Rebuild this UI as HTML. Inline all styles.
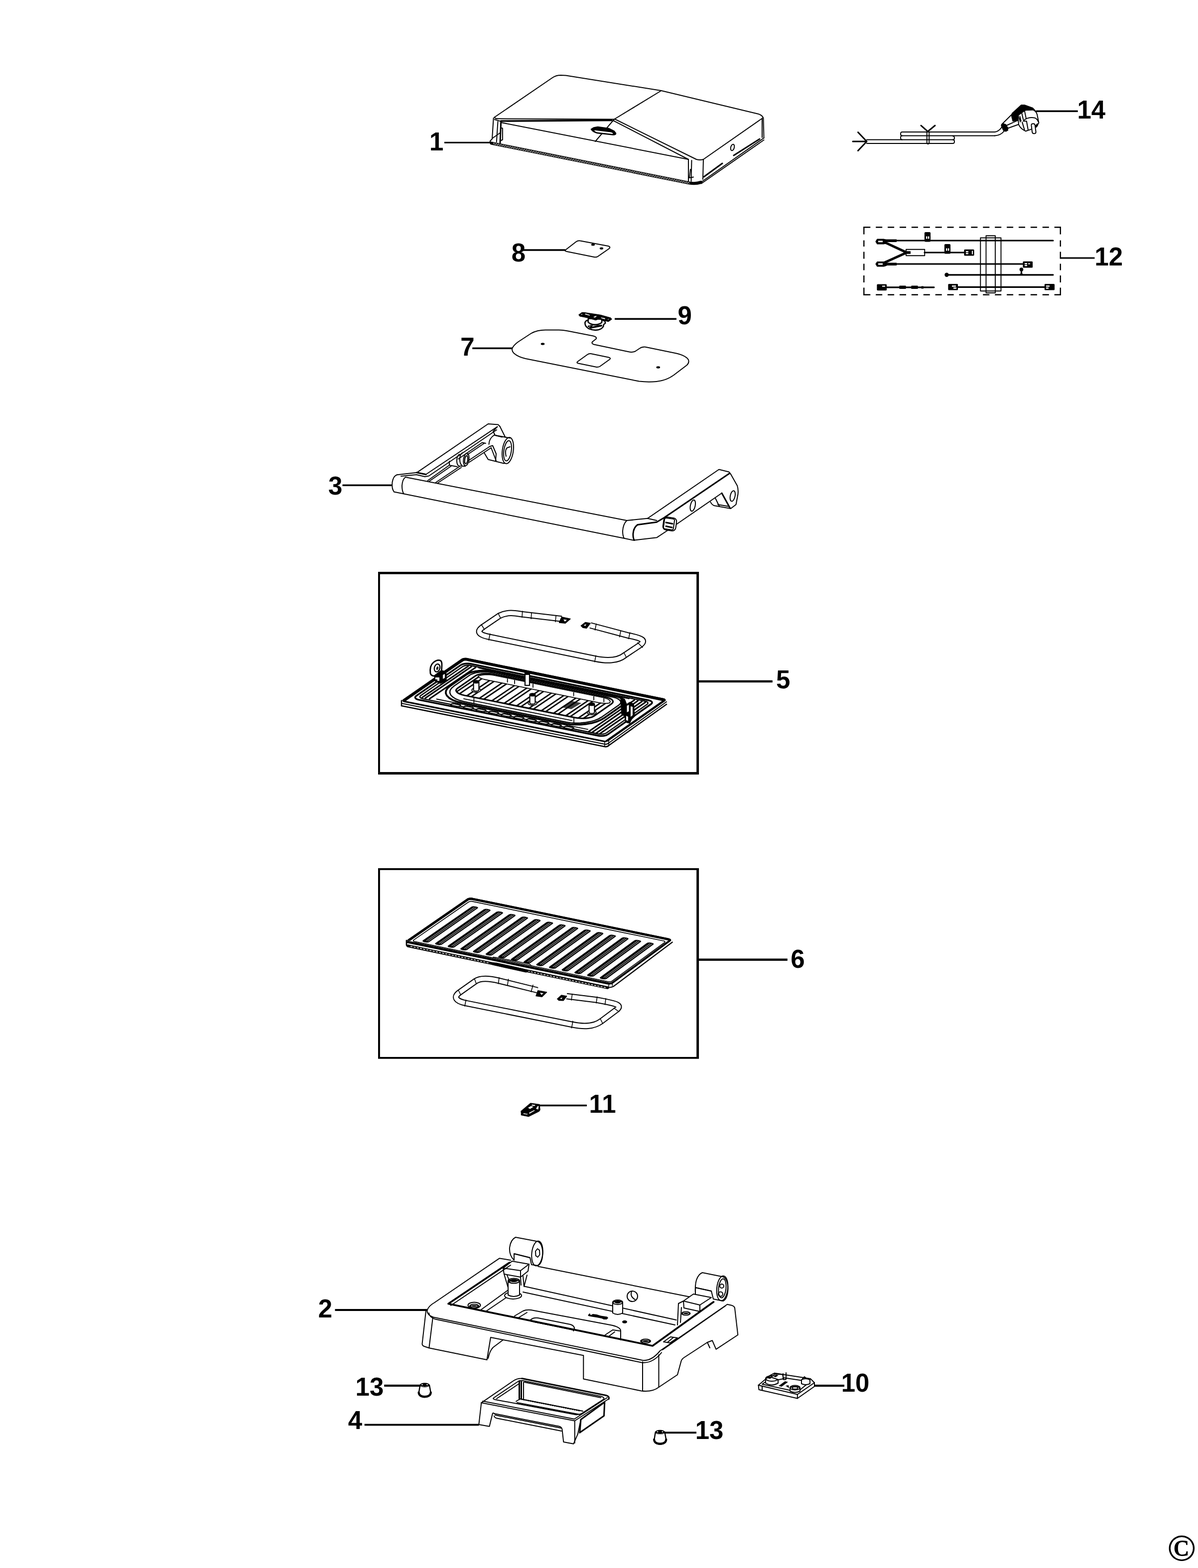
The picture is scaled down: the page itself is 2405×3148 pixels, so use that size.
<!DOCTYPE html>
<html lang="en">
<head>
<meta charset="utf-8">
<title>Exploded parts diagram</title>
<style>
html,body{margin:0;padding:0;background:#fff;}
body{width:2405px;height:3148px;overflow:hidden;}
svg{display:block;}
.l{fill:none;stroke:#000;stroke-width:2;stroke-linecap:round;stroke-linejoin:round;}
.t{fill:none;stroke:#000;stroke-width:1.6;stroke-linecap:round;stroke-linejoin:round;}
.h{fill:none;stroke:#000;stroke-width:3;stroke-linecap:round;stroke-linejoin:round;}
.w{fill:#fff;stroke:#000;stroke-width:2;stroke-linecap:round;stroke-linejoin:round;}
.k{fill:#000;stroke:#000;stroke-width:1.5;stroke-linejoin:round;}
.ld{fill:none;stroke:#000;stroke-width:3;stroke-linecap:butt;}
.box{fill:none;stroke:#000;stroke-width:3.4;}
.n{font-family:"Liberation Sans",Arial,Helvetica,sans-serif;font-weight:700;font-size:51px;fill:#000;}
.c{font-family:"Liberation Serif","Times New Roman",serif;font-weight:700;font-size:76.5px;fill:#000;}
</style>
</head>
<body>
<svg width="2405" height="3148" viewBox="0 0 2405 3148">
<rect x="0" y="0" width="2405" height="3148" fill="#fff"/>
<!-- 01_lid -->
<g class="l">
<!-- top face outline -->
<path d="M992.500 235.500 L1109 156 Q1116 151 1126 151 L1136 151.500 L1327.500 182 L1521 228.500 Q1531 231 1532.500 238 L1533.500 277"/>
<path d="M1530 238 L1530 276"/>
<!-- crease -->
<path d="M1327.500 182 L1233 239.500 L1195 284"/>
<!-- front top edges -->
<path d="M992.500 235.500 Q994 238.500 1000 238.300 L1233 239.500"/>
<!-- left corner -->
<path d="M990.700 237 L988 279 L984 283 Q983.500 286.500 986 288"/>
<path d="M999.500 244 L996.800 285"/>
<path d="M1006.400 257 L1008.900 257.500 L1008.900 280.500 L1006 282"/>
<path d="M988.600 277.500 L1003.600 267"/>
<path d="M992.900 240 L1005.700 243.600"/>
<!-- front face top edge -->
<path d="M1007.500 246.300 L1382 320"/>
<!-- chamfer from apex to front right corner -->
<path d="M1234 239 L1398 320 Q1405 322 1412 320"/>
<path d="M1231 242 L1382 320"/>
<!-- right top edge -->
<path d="M1531 237 L1412 320"/>
<!-- front right corner verticals -->
<path d="M1382 320 L1382 364"/>
<path d="M1388.500 322 L1387.500 364"/>
<path d="M1412 320 L1411 360"/>
<path d="M1386 340 L1384 357 L1392 355.500"/>
<!-- bottom right edges -->
<path d="M1533.500 277 L1410 364"/>
<path d="M1533.500 281 L1408 368.500"/>
</g>
<g class="h">
<path d="M1525 279 L1473 312"/>
<path d="M1450 328 L1413 355"/>
<path d="M1005.700 243 L1228 241.500" stroke-width="3.400"/>
<path d="M1005.700 244 L1004 287"/>
</g>
<!-- bottom band (rope-like) -->
<path d="M986.500 287.500 L1384 367.500 Q1397 369.500 1407 366" fill="none" stroke="#000" stroke-width="6.200" stroke-linecap="round"/>
<path d="M990 287.300 L1384 366.600" fill="none" stroke="#fff" stroke-width="1" stroke-dasharray="3.200 1.600"/>
<path d="M990 289.300 L1384 368.600" fill="none" stroke="#fff" stroke-width="1" stroke-dasharray="3.200 1.600" stroke-dashoffset="2.400"/>
<ellipse class="l" cx="1470.500" cy="296" rx="3.500" ry="6.500" transform="rotate(15 1470.500 296)"/>
<!-- handle recess -->
<path class="k" d="M1186.500 259.500 L1192 256 L1200 254.500 L1222 257.500 L1233 263 L1236.500 267.500 Q1237 271 1231 271 L1199 267.500 Q1190 265 1186.500 259.500 Z"/>
<path d="M1193 261.500 L1226 265.500 Q1232 267 1230 269 L1199 265.500 Q1193.500 264 1193 261.500Z" fill="#fff"/>
<!-- 02_cord -->
<g class="h">
<path d="M1740 284 H1712 M1740 284 L1722.500 265.500 M1740 284 L1722.500 302.500"/>
<path d="M1862.500 264 L1849 252 M1862.500 264 L1877 252"/>
</g>
<g class="l">
<path d="M1740 280.500 H1913 Q1916 280.500 1916 284 Q1916 288 1913 288 H1740"/>
<path d="M1913 280.500 Q1916 280.500 1916 277 Q1916 273.200 1913 273.200"/>
<path d="M1997 272.500 H1811 Q1808 272.500 1808 276.500 Q1808 280.500 1811 280.500"/>
<path d="M1811 272.500 Q1808 272.500 1808 269 Q1808 265 1811 265 H1997"/>
<path d="M1860.800 265 V288 Q1863 290 1865.200 288 V265"/>
<path d="M1997 265 Q2005 264 2010.500 256 L2012 252"/>
<path d="M1997 272.500 Q2009 271.500 2015 264 L2019 260"/>
<path d="M2010.8 250.0 L2031.7 229.2"/>
<path d="M2019.2 252.5 L2043.3 241.7"/>
<path d="M2023.3 257.5 L2044.2 250.0"/>
<path class="w" d="M2058.3 221.2 L2073.3 220.4 Q2080.4 223.3 2082.1 230.0 L2085.4 246.7 L2080.4 254.6 L2070.0 259.6 L2059.2 263.3 Q2048.3 258.3 2045.0 250.0 L2043.3 231.7 Z"/>
<path d="M2055.0 241.7 Q2065.0 234.2 2077.5 236.7 Q2082.5 239.2 2084.2 244.2"/>
<path d="M2056.7 222.1 L2060.0 237.9"/>
<path d="M2051.2 226.7 L2054.2 240.0"/>
<path d="M2054.2 243.3 L2060.8 243.3 L2063.8 260.0"/>
<path d="M2052.1 245.4 L2056.7 260.8"/>
<path d="M2044.2 231.7 L2048.3 245.0 L2047.5 233.3 L2050.0 243.3" stroke-width="1.500"/>
<path class="w" d="M2070.4 251.2 Q2070.4 248.3 2074.2 248.3 Q2077.5 248.3 2077.9 251.7 L2079.6 265.0 Q2079.6 268.3 2075.8 268.3 Q2072.5 268.3 2072.1 265.0 Z"/>
</g>
<path class="k" d="M2010.0 251.7 L2014.2 248.3 L2019.2 250.0 L2023.3 256.7 L2023.3 261.7 L2019.2 263.8 L2014.2 261.7Z"/>
<path class="k" d="M2031.7 227.5 L2050.0 210.7 L2056.7 210.7 L2073.3 216.7 L2079.2 222.9 L2073.3 220.4 L2059.2 221.0 L2051.7 225.4 L2044.2 231.7 L2042.1 242.1 L2033.3 243.3 L2030.8 233.3Z"/>
<path class="k" d="M2078.3 253.3 L2082.5 248.3 L2082.9 252.5 L2079.6 255.8Z"/>
<!-- 03_harness -->
<g fill="none" stroke="#000" stroke-width="2.4">
<path d="M1734.300 456.300 H2128.800" stroke-dasharray="13 10.9"/>
<path d="M1734.300 591.800 H2128.800" stroke-dasharray="13 10.9"/>
<path d="M1734.300 455.100 V593" stroke-dasharray="15.5 11.9 12.5 10.6 13.8 10 13.1 10.6 13.8 10.6 16"/>
<path d="M2128.800 455.100 V593" stroke-dasharray="15.5 11.9 12.5 10.6 13.8 10 13.1 10.6 13.8 10.6 16"/>
</g>
<g fill="none" stroke="#000" stroke-width="3.2" stroke-linecap="round">
<path d="M1775 483 H2114"/>
<path d="M1776 486.500 L1818 506 M1776 527 L1818 508" stroke-width="4.800"/>
<path d="M1774 483.300 H1800 M1774 530.300 H1800 M1818 507 H1828" stroke-width="5.400" stroke-linecap="butt"/>
<path d="M1856 507 H1938"/>
<path d="M1775 530 H2056"/>
<path d="M1902 551.800 H2114"/>
<path d="M1920 576.300 H2100"/>
<path d="M1778 576.800 H1875"/>
<path d="M2050.500 543 V551"/>
</g>
<g class="t" style="stroke-width:1.9">
<rect x="1968.300" y="477.500" width="41.200" height="106.800"/>
<rect x="1979.500" y="473.300" width="18.500" height="114.700"/>
<rect x="1819" y="500.800" width="37.300" height="12.500"/>
</g>
<g fill="#000" stroke="#000" stroke-width="1.2" stroke-linejoin="round">
<!-- ring terminals -->
<path d="M1758 485 L1761 480 H1774 L1780 482 V488 L1774 490 H1761 Z"/>
<path d="M1758 530 L1761 525.500 H1774 L1780 527.500 V533 L1774 535 H1761 Z"/>
<!-- flags -->
<rect x="1856.500" y="466.500" width="11" height="18.500" rx="1.5"/>
<rect x="1896.500" y="490.500" width="11" height="18.500" rx="1.5"/>
<!-- connectors -->
<rect x="1936" y="501.300" width="19" height="11.500" rx="1"/>
<rect x="2054" y="525.300" width="18.500" height="11.700" rx="1"/>
<rect x="1904" y="570.600" width="18.500" height="11.400" rx="1"/>
<rect x="2097.500" y="570.600" width="19" height="11.400" rx="1"/>
<rect x="1761" y="571.200" width="18.500" height="11.400" rx="1"/>
<rect x="1806" y="574" width="12" height="5.500"/>
<rect x="1830" y="574" width="12" height="5.500"/>
<rect x="1850" y="575" width="3.500" height="4"/>
<circle cx="1900.500" cy="551.800" r="3.600"/>
<circle cx="2050.500" cy="541" r="3.200"/>
<path d="M2047 551.800 L2050.500 548 L2054 551.800 Z"/>
</g>
<g fill="#fff" stroke="none">
<rect x="1763" y="483.300" width="9" height="3"/>
<rect x="1763" y="528.600" width="9" height="3"/>
<rect x="1859" y="474.500" width="2.500" height="5"/><rect x="1863" y="474.500" width="2.500" height="5"/>
<rect x="1899" y="498.500" width="2.500" height="5"/><rect x="1903" y="498.500" width="2.500" height="5"/>
<rect x="1939" y="504" width="5" height="2.500"/><rect x="1939" y="507.800" width="5" height="2.500"/><rect x="1951" y="503.500" width="2" height="7"/>
<rect x="2057" y="528" width="5" height="2.500"/><rect x="2057" y="531.800" width="5" height="2.500"/><rect x="2064" y="528.500" width="4" height="2"/>
<rect x="1911" y="573.200" width="8" height="2.500"/><rect x="1914" y="577.200" width="6" height="2.500"/>
<rect x="2100" y="573.200" width="7" height="2.500"/><rect x="2100" y="577.200" width="5" height="2.500"/>
<rect x="1771" y="573.500" width="6" height="2.200"/>
</g>
<!-- 04_plates -->
<g class="l">
<!-- part 8 -->
<path d="M1135 502 L1157 485 Q1160.500 482.500 1165 483.500 L1221 494 Q1226.500 495.500 1223 499 L1200 515 Q1197 517 1192.500 516 L1138 505 Q1133 504 1135 502 Z"/>
<!-- part 7 plate -->
<path d="M1028 700 Q1031 693 1040 686.500 L1066 669.500 Q1078 662.500 1095 662.500 L1122 662.500 Q1130 662.500 1140 664.500 L1191 674.500 Q1199 676.500 1196.500 680.500 L1189.500 686 Q1186.500 689.500 1192 691.500 L1262 706.300 Q1269 707.800 1275 705.500 L1284 699.500 Q1289 696 1296 696.700 L1358 709.500 Q1378 714.500 1382 722.500 Q1384 728 1379 733 L1352 753.500 Q1337 764 1318 766 Q1300 767.500 1283 765.500 L1055 720 Q1040 716.500 1032 709.500 Q1027.500 705 1028 700 Z"/>
<path d="M1159.500 726 L1179 712 Q1182.500 709.500 1187 710.300 L1222 717.500 Q1227 719 1224 721.500 L1204.500 735.500 Q1201 737.500 1196.500 736.800 L1161 729.500 Q1156.500 728.500 1159.500 726 Z"/>
</g>
<g fill="#000">
<ellipse cx="1190.500" cy="491.300" rx="3.600" ry="2.200"/>
<ellipse cx="1207.500" cy="498.800" rx="3.600" ry="2.200"/>
<ellipse cx="1089.500" cy="690.500" rx="3.800" ry="2.200"/>
<ellipse cx="1321.300" cy="737.500" rx="3.800" ry="2.200"/>
</g>
<!-- part 9 thermostat -->
<path d="M1180.6 642.7 Q1174.0 644.0 1174.4 649.3 Q1174.7 655.8 1181.9 659.8 Q1195.7 665.7 1206.1 660.4 Q1212.0 657.1 1211.7 651.9 L1215.3 648.6 L1214.0 644.0 L1208.1 642.7" fill="#fff" stroke="#000" stroke-width="2.600" stroke-linejoin="round"/>
<path d="M1179.3 655.2 Q1181.9 651.9 1188.5 652.6 L1198.9 652.6 L1208.8 651.9 L1208.8 655.2 L1185.8 659.8 Z" fill="#000"/>
<path d="M1188.5 655.8 L1190.4 653.5 L1198.9 653.2 L1191.1 655.2Z M1182.6 653.9 L1185.2 653.9 L1185.2 655.2 L1182.6 655.2Z" fill="#fff"/>
<path d="M1180.9 639.5 L1180.6 646.7 Q1185.8 651.9 1194.3 651.9 Q1204.2 651.2 1208.1 647.3 L1208.1 640.8 Z" fill="#fff" stroke="#000" stroke-width="2.600" stroke-linejoin="round"/>
<path d="M1161.9 631.9 L1168.2 627.4 L1172.7 627.4 L1205.5 632.3 L1225.8 638.2 L1228.1 640.8 L1221.2 645.7 L1205.5 641.4 L1201.5 640.8 L1195.7 642.7 L1180.6 638.2 L1164.2 634.9Z" fill="#000" stroke="#000" stroke-width="1.200" stroke-linejoin="round"/>
<path d="M1166.8 631.0 L1168.8 630.0 L1169.1 631.6 L1167.2 632.1Z M1174.0 631.0 L1175.4 629.6 L1183.9 632.3 L1183.9 633.7Z M1191.1 636.5 L1195.7 634.2 L1198.3 634.4 L1194.3 637.8Z M1206.1 637.2 L1214.6 638.8 L1214.6 640.9 L1207.4 639.1Z M1219.9 641.4 L1221.8 640.0 L1222.2 640.8 L1220.4 642.2Z" fill="#fff"/>
<!-- 05_handle -->
<g class="l">
<!-- bar -->
<path d="M814 958 L1258.300 1045"/>
<path d="M791 987.500 L1253 1080.800 L1273.300 1085"/>
<!-- left cap -->
<path d="M797 953.300 Q790 955 787.500 968 Q786 981 791 987.500"/>
<path d="M814 958 Q808 962 807 975 Q807 986 810.500 991.200"/>
<path d="M797 953.300 L836.700 948.800"/>
<path d="M805 956 L836 953 L853 957"/>
<!-- left arm -->
<path d="M836.700 948.800 L980 851 L1000 852.500 L1003.500 856"/>
<path d="M836.700 948.800 L855 952.500 L998.500 856.700"/>
<path d="M853 957 L861 955.500 L997 863"/>
<path d="M858.500 965 L902 934 M920 921.500 L968 888.500 L975 890"/>
<path d="M862 966 L906 935.500 M938 913 L972 890"/>
<path d="M875 968.500 L922 937 M940 925 L983 896.500"/>
<path d="M879 969.500 L926 938.500 M942 928 L986 899"/>
<path d="M902 926 V934 L918 937"/>
<!-- pin -->
<path d="M922 912 Q917 916 917 925 Q917 933 921 935.500 L934 936"/>
<path d="M928 909 Q923 913 923 922 Q923 931 927 934"/>
<ellipse cx="936" cy="922.500" rx="5.500" ry="12.500" transform="rotate(8 936 922.500)"/>
<ellipse cx="936" cy="923" rx="3" ry="8" transform="rotate(8 936 923)"/>
<!-- hinge end -->
<path d="M1003.500 856 L1014 877"/>
<path d="M998.500 856.700 L990 866 L994 874 L1008 877.500"/>
<path d="M992 873.500 Q982 880 981.500 892"/>
<path d="M992 873.500 L1024 879.500"/>
<path d="M983 896.500 L989 894.500 L996 911 L995 925"/>
<path d="M972 909 L980 922.500 L1012 930.500"/>
<path d="M986 899 L996 925"/>
<ellipse cx="1019.500" cy="904.500" rx="11" ry="26.500" transform="rotate(8 1019.500 904.500)"/>
<ellipse cx="1019" cy="905" rx="7.500" ry="20.500" transform="rotate(8 1019 905)"/>
<path d="M1016 916 Q1013 904 1018 899 L1024 897"/>
<!-- right cap -->
<path d="M1258.300 1045 Q1251 1052 1250 1066 Q1250 1076 1253 1080.800"/>
<path d="M1258.300 1045 L1300 1040.800 L1318.300 1045"/>
<!-- right arm -->
<path d="M1300 1040.800 L1443.300 942.500 L1463.500 947.500 L1467 952"/>
<path d="M1467 952 L1480 975 Q1482.500 982 1481.500 992 L1477.500 1013 L1467 1021 L1433 1015 Q1428 1012 1426.500 1008"/>
<path d="M1449 990 L1340 1065 L1318.300 1079.300 L1273.300 1084.500"/>
<path d="M1436 1000 L1444 1016.500"/>
<path d="M1441 1013 L1462 1016.500"/>
<ellipse cx="1390.800" cy="1015" rx="4.800" ry="11.500" transform="rotate(12 1390.800 1015)"/>
<ellipse cx="1470.800" cy="995.800" rx="4.800" ry="10.800" transform="rotate(12 1470.800 995.800)"/>
<!-- button -->
<rect class="w" x="1331.500" y="1039" width="26" height="26" rx="7" transform="rotate(8 1344.500 1052)"/>
<rect x="1333" y="1041" width="20" height="22" rx="3" transform="rotate(8 1344.500 1052)"/>
</g>
<g class="h">
<path d="M1280 1053.500 Q1272 1059 1271 1071 Q1270.500 1080 1273.300 1084.500"/>
<path d="M1280 1053.500 L1318.300 1048.300 L1333 1039.500 L1465 950"/>
<path d="M1449 990 L1465.500 1020"/>
<path d="M836.700 948.800 L855 952.500"/>
<path d="M1337 1049 L1350 1051.500 M1337 1056.500 L1349 1059"/>
</g>
<!-- 10_elem5 -->
<path d="M1127.500 1242.500 L1048.400 1233.300 C1038 1232 1022 1227 1002.500 1236.300 L969.400 1258.800 C958 1266.500 958 1274 982.500 1278.800 L1195 1322.500 C1217 1327 1239 1328 1255 1315 L1285 1295 C1297 1286 1290 1281.500 1263.300 1276.300 L1185 1255.500" fill="none" stroke="#000" stroke-width="12.6" stroke-linejoin="round"/>
<path d="M1127.500 1242.500 L1048.400 1233.300 C1038 1232 1022 1227 1002.500 1236.300 L969.400 1258.800 C958 1266.500 958 1274 982.500 1278.800 L1195 1322.500 C1217 1327 1239 1328 1255 1315 L1285 1295 C1297 1286 1290 1281.500 1263.300 1276.300 L1185 1255.500" fill="none" stroke="#fff" stroke-width="8.6" stroke-linejoin="round"/>
<path class="t" d="M1048.8 1227 L1048 1239.5 M1067 1230 L1066.2 1242.5 M1116.2 1235.5 L1115 1248.5 M1000 1231.2 L1005 1241.2 M966.2 1253.8 L972.5 1263.8 M983.8 1272.5 L981.2 1285 M1196.2 1316.2 L1193.8 1328.8 M1252.5 1310 L1257.5 1320 M1280 1290 L1290 1300 M1246.2 1266.2 L1243.8 1278.8 M1264.5 1270 L1262 1282.5 M1197 1252.5 L1194.5 1265"/>
<path class="k" d="M1127.500 1238.800 L1145 1242.500 L1135 1251.300 L1122.500 1250 Z"/><path d="M1131 1243.500 L1138 1244.500 L1134 1248 Z" fill="#fff"/><path class="k" d="M1166.300 1256.300 L1175 1249.500 L1185 1251.300 L1177.500 1261.300 L1170 1260 Z"/><path d="M1172 1255 L1177 1253 L1175 1257 Z" fill="#fff"/>
<!-- 11_plate5 -->
<g>
<path d="M806 1412 L1214 1494 Q1219 1495 1223 1491 L1338 1409" fill="none" stroke="#000" stroke-width="2.0" stroke-linejoin="round" stroke-linecap="round"/>
<path d="M806 1417 L1214 1499 Q1219 1500 1223 1496 L1338 1414" fill="none" stroke="#000" stroke-width="2.6" stroke-linejoin="round" stroke-linecap="round"/>
<path d="M806 1406.5 v10.5" fill="none" stroke="#000" stroke-width="2.4" stroke-linejoin="round" stroke-linecap="round"/>
<path d="M1214 1489.5 v9.5 M1222 1486.5 v9" fill="none" stroke="#000" stroke-width="1.6" stroke-linejoin="round" stroke-linecap="round"/>
<path d="M1334.4 1407 L1335.1 1406.3 L1335.4 1405.6 L1335.2 1404.9 L1334.5 1404.2 L1333.4 1403.7 L1332 1403.3 L937.2 1322.3 L935.5 1322 L933.6 1322 L931.7 1322.1 L930 1322.5 L928.4 1323 L927.3 1323.6 L809.8 1404.9 L809 1405.6 L808.7 1406.4 L808.9 1407.1 L809.7 1407.8 L810.8 1408.3 L812.3 1408.8 L1211 1488.3 L1212.6 1488.5 L1214.5 1488.6 L1216.3 1488.4 L1218 1488.1 L1219.5 1487.6 L1220.6 1486.9Z" fill="#fff" stroke="#000" stroke-width="2.4" stroke-linejoin="round"/>
<path d="M811.7 1405.8 L928.5 1325 L928.5 1325 L929.6 1324.4 L931 1324 L932.6 1323.7 L934.4 1323.7 L936.3 1323.7 L938 1324 L939.6 1324.3 L1332.3 1404.9" fill="none" stroke="#000" stroke-width="5.8" stroke-linejoin="round" stroke-linecap="round"/>
<path d="M1216.8 1487.8 L1333.6 1405.8" fill="none" stroke="#000" stroke-width="3.2" stroke-linejoin="round" stroke-linecap="round"/>
<path d="M810.9 1407.8 L1213.7 1488.2" fill="none" stroke="#000" stroke-width="2.6" stroke-linejoin="round" stroke-linecap="round"/>
<path d="M1307.1 1413.5 L1308.6 1412.1 L1309.1 1410.6 L1308.7 1409.2 L1307.4 1407.9 L1305.2 1406.8 L1302.4 1406 L944.7 1332.7 L941.2 1332.3 L937.5 1332.2 L933.7 1332.5 L930.2 1333.1 L927.1 1334.1 L924.8 1335.4 L835.5 1397.2 L834 1398.6 L833.4 1400.1 L833.9 1401.6 L835.3 1402.9 L837.5 1404.1 L840.5 1404.9 L1201.1 1477 L1204.5 1477.5 L1208.2 1477.5 L1211.8 1477.2 L1215.3 1476.6 L1218.2 1475.6 L1220.5 1474.3Z" fill="none" stroke="#000" stroke-width="3.4" stroke-linejoin="round" stroke-linecap="round"/>
<path d="M1299.1 1414.1 L1300.3 1412.9 L1300.8 1411.7 L1300.5 1410.5 L1299.3 1409.4 L1297.5 1408.4 L1295.2 1407.8 L945.1 1336.2 L942.2 1335.8 L939.1 1335.7 L936 1335.9 L933 1336.5 L930.5 1337.3 L928.5 1338.4 L844.6 1396.4 L843.4 1397.6 L842.9 1398.9 L843.3 1400.1 L844.5 1401.2 L846.4 1402.2 L848.8 1402.9 L1201.5 1473.5 L1204.3 1473.9 L1207.4 1473.9 L1210.4 1473.7 L1213.3 1473.1 L1215.8 1472.3 L1217.7 1471.2Z" fill="none" stroke="#000" stroke-width="2.4" stroke-linejoin="round" stroke-linecap="round"/>
<path d="M847.6 1400.2 L939.9 1337.4 M853.9 1401.4 L946.2 1338.6 M862.2 1403.1 L954.5 1340.3 M1182.4 1468.3 L1273.5 1405.5 M1189.5 1469.7 L1280.5 1407 M1197.5 1471.4 L1288.5 1408.6 M1204.6 1472.8 L1295.5 1410" fill="none" stroke="#000" stroke-width="3.0" stroke-linejoin="round" stroke-linecap="round"/>
<path d="M961.1 1341.1 L1262.9 1402.8" fill="none" stroke="#000" stroke-width="1.8" stroke-linejoin="round" stroke-linecap="round"/>
<path d="M924.2 1417.1 L924.7 1416.3 L924.2 1415.5 L922.8 1415 L911.6 1412.8 L909.7 1412.6 L907.8 1412.9 L906.3 1413.5 L905.3 1414.2 L904.8 1415 L905.3 1415.7 L906.7 1416.2 L917.9 1418.5 L919.8 1418.6 L921.7 1418.4 L923.2 1417.8Z M949.7 1422.2 L950.2 1421.4 L949.7 1420.6 L948.3 1420.1 L937.1 1417.9 L935.2 1417.7 L933.3 1418 L931.8 1418.6 L930.9 1419.3 L930.3 1420.1 L930.8 1420.8 L932.2 1421.3 L943.4 1423.6 L945.3 1423.7 L947.2 1423.5 L948.7 1422.9Z M975.1 1427.3 L975.6 1426.5 L975.1 1425.7 L973.7 1425.2 L962.6 1423 L960.7 1422.8 L958.7 1423.1 L957.3 1423.7 L956.3 1424.4 L955.8 1425.2 L956.2 1425.9 L957.6 1426.4 L968.8 1428.7 L970.7 1428.8 L972.6 1428.5 L974.1 1427.9Z M1000.4 1432.3 L1001 1431.6 L1000.5 1430.8 L999.1 1430.3 L988 1428.1 L986.1 1427.9 L984.1 1428.2 L982.7 1428.8 L981.7 1429.5 L981.2 1430.3 L981.6 1431 L983 1431.5 L994.2 1433.7 L996.1 1433.9 L998 1433.6 L999.4 1433Z M1025.7 1437.4 L1026.2 1436.6 L1025.8 1435.9 L1024.4 1435.4 L1013.3 1433.1 L1011.4 1433 L1009.5 1433.3 L1008 1433.9 L1007 1434.5 L1006.5 1435.3 L1007 1436.1 L1008.4 1436.6 L1019.5 1438.8 L1021.4 1438.9 L1023.3 1438.7 L1024.7 1438.1Z M1050.9 1442.4 L1051.5 1441.7 L1051 1440.9 L1049.6 1440.4 L1038.5 1438.2 L1036.6 1438.1 L1034.7 1438.3 L1033.3 1438.9 L1032.3 1439.6 L1031.8 1440.4 L1032.2 1441.1 L1033.6 1441.6 L1044.7 1443.8 L1046.6 1444 L1048.5 1443.7 L1049.9 1443.1Z M1076.1 1447.5 L1076.6 1446.7 L1076.1 1446 L1074.8 1445.5 L1063.7 1443.2 L1061.8 1443.1 L1059.9 1443.4 L1058.5 1444 L1057.5 1444.6 L1057 1445.4 L1057.4 1446.2 L1058.8 1446.7 L1069.9 1448.9 L1071.8 1449 L1073.7 1448.8 L1075.1 1448.2Z M1101.2 1452.5 L1101.7 1451.7 L1101.2 1451 L1099.9 1450.5 L1088.9 1448.3 L1087 1448.1 L1085 1448.4 L1083.6 1449 L1082.6 1449.7 L1082.1 1450.5 L1082.6 1451.2 L1083.9 1451.7 L1095 1453.9 L1096.9 1454 L1098.8 1453.8 L1100.2 1453.2Z M1126.2 1457.5 L1126.7 1456.7 L1126.3 1456 L1124.9 1455.5 L1113.9 1453.3 L1112 1453.2 L1110.1 1453.4 L1108.7 1454 L1107.7 1454.7 L1107.2 1455.5 L1107.7 1456.2 L1109 1456.7 L1120 1458.9 L1121.9 1459.1 L1123.8 1458.8 L1125.2 1458.2Z M1151.2 1462.5 L1151.7 1461.7 L1151.2 1461 L1149.9 1460.5 L1138.9 1458.3 L1137 1458.2 L1135.1 1458.4 L1133.7 1459 L1132.7 1459.7 L1132.2 1460.5 L1132.7 1461.2 L1134 1461.7 L1145 1463.9 L1146.9 1464.1 L1148.8 1463.8 L1150.2 1463.2Z" fill="#fff" stroke="#000" stroke-width="2.4" stroke-linejoin="round"/>
<path d="M876.5 1403.5 L1180.2 1464.4" fill="none" stroke="#000" stroke-width="1.8" stroke-linejoin="round" stroke-linecap="round"/>
<path d="M1249.3 1416 L1252 1413.5 L1253.4 1410.9 L1253.3 1408.2 L1251.9 1405.6 L1249.1 1403.1 L1245.1 1400.9 L1240.1 1399 L1234.1 1397.5 L993.5 1348.3 L985.9 1347.1 L977.9 1346.4 L969.7 1346.3 L961.8 1346.7 L954.3 1347.7 L947.7 1349.3 L942 1351.2 L937.7 1353.6 L903.4 1377.4 L898.2 1382 L895.3 1386.8 L894.9 1391.7 L897 1396.6 L901.5 1401.1 L908.2 1405.1 L916.8 1408.5 L927.2 1411.1 L1134.4 1452.7 L1144.5 1454.2 L1155.3 1454.8 L1166.4 1454.6 L1177.4 1453.6 L1187.9 1451.7 L1197.4 1449 L1205.6 1445.7 L1212.2 1441.9Z" fill="#fff" stroke="#000" stroke-width="3.6" stroke-linejoin="round"/>
<path d="M1242.7 1415.2 L1245 1413.1 L1246.1 1410.8 L1246 1408.5 L1244.7 1406.3 L1242.3 1404.1 L1238.7 1402.2 L1234.3 1400.5 L1229.1 1399.2 L992.5 1350.9 L985.8 1349.8 L978.6 1349.1 L971.4 1349 L964.4 1349.4 L957.8 1350.2 L952 1351.5 L947.1 1353.3 L943.3 1355.3 L910.9 1377.8 L906.1 1382 L903.4 1386.5 L903.1 1391 L905 1395.5 L909.2 1399.6 L915.4 1403.4 L923.4 1406.5 L933 1408.9 L1136.1 1449.7 L1145.3 1451.1 L1155.2 1451.7 L1165.4 1451.5 L1175.5 1450.5 L1185 1448.8 L1193.8 1446.4 L1201.3 1443.4 L1207.4 1439.9Z" fill="none" stroke="#000" stroke-width="2.4" stroke-linejoin="round" stroke-linecap="round"/>
<path d="M930.9 1402.9 L1148.3 1446.6" fill="none" stroke="#000" stroke-width="1.8" stroke-linejoin="round" stroke-linecap="round"/>
<path d="M951.4 1399.8 v12 M1152.1 1440.3 v11" fill="none" stroke="#000" stroke-width="1.8" stroke-linejoin="round" stroke-linecap="round"/>
<path d="M1228 1412.7 L1229.8 1411 L1230.6 1409.1 L1230.3 1407.1 L1228.9 1405.1 L1226.4 1403.3 L1223 1401.6 L1218.8 1400.1 L1213.9 1398.9 L993.5 1353.9 L988.1 1353 L982.3 1352.4 L976.5 1352.3 L970.9 1352.5 L965.7 1353.1 L961.1 1354.1 L957.2 1355.4 L954.3 1357 L918.2 1382 L916.3 1383.8 L915.5 1385.7 L915.8 1387.7 L917.3 1389.7 L919.8 1391.6 L923.4 1393.3 L927.7 1394.9 L932.7 1396.1 L1154.2 1440.7 L1159.5 1441.5 L1165.2 1442.1 L1170.9 1442.2 L1176.4 1441.9 L1181.5 1441.3 L1186 1440.3 L1189.8 1439 L1192.7 1437.4Z" fill="#fff" stroke="#000" stroke-width="3.0" stroke-linejoin="round"/>
<clipPath id="p5f"><path d="M1228 1412.7 L1229.8 1411 L1230.6 1409.1 L1230.3 1407.1 L1228.9 1405.1 L1226.4 1403.3 L1223 1401.6 L1218.8 1400.1 L1213.9 1398.9 L993.5 1353.9 L988.1 1353 L982.3 1352.4 L976.5 1352.3 L970.9 1352.5 L965.7 1353.1 L961.1 1354.1 L957.2 1355.4 L954.3 1357 L918.2 1382 L916.3 1383.8 L915.5 1385.7 L915.8 1387.7 L917.3 1389.7 L919.8 1391.6 L923.4 1393.3 L927.7 1394.9 L932.7 1396.1 L1154.2 1440.7 L1159.5 1441.5 L1165.2 1442.1 L1170.9 1442.2 L1176.4 1441.9 L1181.5 1441.3 L1186 1440.3 L1189.8 1439 L1192.7 1437.4Z"/></clipPath>
<path d="M908.2 1394.5 L961.7 1358.5 M917.2 1396.3 L970.6 1360.3 M933.4 1399.5 L986.7 1363.6 M942.3 1401.3 L995.6 1365.4 M958.4 1404.6 L1011.7 1368.7 M967.3 1406.4 L1020.5 1370.5 M983.4 1409.6 L1036.6 1373.8 M992.3 1411.4 L1045.4 1375.6 M1008.3 1414.6 L1061.4 1378.8 M1017.2 1416.4 L1070.2 1380.6 M1033.2 1419.6 L1086.1 1383.8 M1042 1421.4 L1094.9 1385.6 M1058 1424.6 L1110.8 1388.9 M1066.8 1426.4 L1119.6 1390.7 M1082.7 1429.6 L1135.5 1393.9 M1091.5 1431.4 L1144.2 1395.7 M1107.4 1434.6 L1160 1398.9 M1116.2 1436.3 L1168.8 1400.7 M1132 1439.5 L1184.6 1403.9 M1140.8 1441.3 L1193.3 1405.7 M1156.6 1444.5 L1209 1408.9 M1165.3 1446.2 L1217.7 1410.6" fill="none" stroke="#000" stroke-width="2.8" clip-path="url(#p5f)"/>
<path d="M1222.9 1411.7 L1224.4 1410.3 L1225 1408.7 L1224.6 1407.1 L1223.3 1405.6 L1221.2 1404 L1218.2 1402.6 L1214.6 1401.4 L1210.5 1400.4 L992.1 1355.8 L987.5 1355 L982.6 1354.6 L977.8 1354.4 L973.1 1354.5 L968.8 1355 L965 1355.8 L961.8 1356.8 L959.4 1358.1 L960.7 1357.2 L960.1 1357.9 L960.4 1358.8 L961.4 1359.8 L963.2 1360.9 L965.7 1361.9 L968.9 1363 L972.5 1364 L976.4 1364.8 L1199.1 1410.1 L1203.1 1410.9 L1207.2 1411.5 L1211.1 1411.9 L1214.8 1412.1 L1218 1412 L1220.7 1411.8 L1222.8 1411.4 L1224.1 1410.8Z" fill="#fff" stroke="#000" stroke-width="1.8" clip-path="url(#p5f)"/>
<path d="M1018.7 1362.3 v8 M1033.1 1365.3 v8 M1070 1372.8 v8 M1151.6 1389.4 v8 M1192.1 1397.7 v8 M1212.3 1401.8 v8" fill="none" stroke="#000" stroke-width="1.8" clip-path="url(#p5f)"/>
<ellipse cx="956" cy="1385.5" rx="8.9" ry="4.6" fill="#fff" stroke="#000" stroke-width="1.8"/>
<path d="M950.6 1385 v-16 a5.4 2.6 0 0 1 10.8 0 v16 a5.4 2.6 0 0 1 -10.8 0Z" fill="#fff" stroke="#000" stroke-width="2.2"/>
<ellipse cx="956" cy="1369" rx="5.4" ry="2.6" fill="#000" stroke="#000" stroke-width="1.5"/>
<ellipse cx="1069" cy="1411.5" rx="8.9" ry="4.6" fill="#fff" stroke="#000" stroke-width="1.8"/>
<path d="M1063.6 1411 v-16 a5.4 2.6 0 0 1 10.8 0 v16 a5.4 2.6 0 0 1 -10.8 0Z" fill="#fff" stroke="#000" stroke-width="2.2"/>
<ellipse cx="1069" cy="1395" rx="5.4" ry="2.6" fill="#000" stroke="#000" stroke-width="1.5"/>
<ellipse cx="1188" cy="1430.5" rx="8.9" ry="4.6" fill="#fff" stroke="#000" stroke-width="1.8"/>
<path d="M1182.6 1430 v-16 a5.4 2.6 0 0 1 10.8 0 v16 a5.4 2.6 0 0 1 -10.8 0Z" fill="#fff" stroke="#000" stroke-width="2.2"/>
<ellipse cx="1188" cy="1414" rx="5.4" ry="2.6" fill="#000" stroke="#000" stroke-width="1.5"/>
<path d="M1126.6 1419.7 L1146.9 1423.8 L1167.3 1411.4 L1147 1407.3Z" fill="#000" opacity="0.75"/>
<path d="M864 1352 Q862 1337 870 1330 Q878 1323.5 884 1326 Q887.5 1328 887 1336 L886.5 1346 L872 1357 Q866 1357.5 864 1352 Z" fill="#fff" stroke="#000" stroke-width="2.8" stroke-linejoin="round"/>
<ellipse cx="877.5" cy="1341" rx="5.5" ry="8" transform="rotate(14 877.5 1341)" fill="#fff" stroke="#000" stroke-width="2.4"/>
<ellipse cx="878" cy="1341.5" rx="2" ry="3.5" transform="rotate(14 878 1341.5)" fill="#000"/>
<path d="M872 1357 L886.5 1346 L893 1348 L896 1353 L896 1366 L884 1372 L874 1368 Z" fill="#000" stroke="#000" stroke-width="1.5" stroke-linejoin="round"/>
<path d="M874 1360 h8 v7 h-4 v-3 h-4Z M889 1355 l4 -2 v8 l-4 2Z" fill="#fff"/>
<path d="M1246 1400 L1254 1404 L1258 1414 L1264 1410 L1272 1413 L1274 1438 L1268 1444 L1264 1452 L1256 1450 L1254 1438 L1248 1434 Z" fill="#000" stroke="#000" stroke-width="1.5" stroke-linejoin="round"/>
<path d="M1258.5 1417 l4 -2 v13 l-4 2Z M1266 1418 l4 1 v17 l-4 3Z M1257 1437 l4 2 v8 l-4 -1Z" fill="#fff"/>
<path d="M1054 1350 h9 v26 h-9Z" fill="#fff" stroke="#000" stroke-width="2.2"/>
<path d="M1054 1350 h9 v5 h-9Z" fill="#000"/>
</g>
<!-- 20_grill -->
<g>
<path d="M1345 1888.8 L1345.7 1888.1 L1346 1887.3 L1345.8 1886.6 L1345.1 1885.9 L1343.9 1885.4 L1342.5 1884.9 L948 1803.7 L946.3 1803.4 L944.4 1803.4 L942.6 1803.5 L940.9 1803.9 L939.3 1804.4 L938.2 1805 L819.8 1886.9 L819 1887.6 L818.7 1888.3 L818.9 1889.1 L819.6 1889.8 L820.7 1890.4 L822.1 1890.8 L1221.6 1973.7 L1223.3 1974 L1225.2 1974 L1227.1 1973.8 L1228.8 1973.5 L1230.3 1973 L1231.5 1972.3Z" fill="none" stroke="#000" stroke-width="2.6" stroke-linejoin="round"/>
<path d="M822.3 1886.8 L939.4 1805.8 L939.1 1806 L940.2 1805.4 L941.6 1805 L943.3 1804.7 L945.1 1804.6 L946.9 1804.6 L948.5 1804.9 L948.7 1804.9 L1341.3 1885.8" fill="none" stroke="#000" stroke-width="4.6" stroke-linejoin="round" stroke-linecap="round"/>
<path d="M1334.1 1892.2 L1334.8 1891.5 L1334.9 1890.7 L1334.5 1890 L1333.5 1889.4 L1332 1889 L948.6 1809.9 L946.9 1809.7 L945.1 1809.7 L943.3 1810 L941.7 1810.4 L940.5 1811 L830.6 1887.1 L829.9 1887.9 L829.7 1888.6 L830.1 1889.4 L831.1 1890 L832.5 1890.4 L1220.4 1970.9 L1222.1 1971.1 L1224 1971.1 L1225.8 1970.9 L1227.4 1970.4 L1228.6 1969.7Z" fill="none" stroke="#000" stroke-width="1.7" stroke-linejoin="round"/>
<path d="M817 1891.6 L1220.1 1974.8" fill="none" stroke="#000" stroke-width="3.4" stroke-linecap="round"/>
<path d="M1222.8 1975.1 L1228.2 1973.9 L1345.4 1887.8" fill="none" stroke="#000" stroke-width="3.6" stroke-linecap="round" stroke-linejoin="round"/>
<path d="M816 1888 L816 1897.2 Q816.5 1899.7 821 1900.3" fill="none" stroke="#000" stroke-width="2.6" stroke-linecap="round"/>
<path d="M819 1899.1 L1219.8 1983" fill="none" stroke="#000" stroke-width="5.6" stroke-linecap="round"/>
<path d="M824 1899.9 L1217.8 1983.2" fill="none" stroke="#fff" stroke-width="1.5" stroke-dasharray="4.2 2.3"/>
<path d="M1219.8 1983 Q1228.9 1982.4 1232.9 1979.4 L1349.6 1891.6" fill="none" stroke="#000" stroke-width="2.4" stroke-linecap="round" stroke-linejoin="round"/>
<path d="M1222.2 1973.3 V1981.3 M1229.2 1971.3 v8" fill="none" stroke="#000" stroke-width="1.6"/>
<path d="M984 1933 L990 1936.800 L1056 1951.500 L1060 1950.500 L1050 1945.500 L996 1933.500 Z" fill="#000" stroke="#000" stroke-width="2.200" stroke-linejoin="round"/>
<path d="M990 1921.500 L999 1922.800 L1063 1935.300 L1067 1939" fill="none" stroke="#000" stroke-width="1.500" stroke-linecap="round"/>
<path d="M958.7 1823.5 L959.4 1822.7 L959.4 1821.9 L958.5 1821.2 L957 1820.7 L953.2 1819.9 L951.2 1819.7 L949.2 1819.8 L947.3 1820.2 L946 1820.9 L849.1 1888.1 L848.4 1888.9 L848.5 1889.8 L849.3 1890.5 L850.8 1891 L854.7 1891.8 L856.7 1892 L858.7 1891.9 L860.6 1891.5 L862 1890.8Z M983.8 1828.7 L984.5 1827.9 L984.4 1827.1 L983.6 1826.4 L982.1 1825.9 L978.2 1825.1 L976.3 1824.9 L974.3 1825 L972.4 1825.4 L971 1826.1 L874.4 1893.4 L873.7 1894.2 L873.8 1895 L874.6 1895.7 L876.1 1896.2 L880 1897.1 L882 1897.3 L884 1897.1 L885.9 1896.7 L887.3 1896Z M1008.9 1833.9 L1009.6 1833.1 L1009.5 1832.3 L1008.7 1831.5 L1007.2 1831 L1003.3 1830.3 L1001.4 1830 L999.3 1830.2 L997.5 1830.6 L996.1 1831.2 L899.8 1898.6 L899 1899.4 L899.1 1900.3 L900 1901 L901.5 1901.5 L905.4 1902.3 L907.3 1902.5 L909.4 1902.4 L911.3 1902 L912.7 1901.3Z M1034 1839.1 L1034.7 1838.3 L1034.6 1837.4 L1033.8 1836.7 L1032.3 1836.2 L1028.4 1835.4 L1026.5 1835.2 L1024.4 1835.3 L1022.6 1835.8 L1021.2 1836.4 L925.1 1903.9 L924.4 1904.7 L924.5 1905.5 L925.3 1906.3 L926.8 1906.8 L930.7 1907.6 L932.7 1907.8 L934.7 1907.7 L936.6 1907.2 L938 1906.6Z M1059.1 1844.2 L1059.8 1843.4 L1059.7 1842.6 L1058.9 1841.9 L1057.4 1841.4 L1053.5 1840.6 L1051.6 1840.4 L1049.6 1840.5 L1047.7 1840.9 L1046.3 1841.6 L950.5 1909.1 L949.7 1910 L949.8 1910.8 L950.7 1911.5 L952.2 1912 L956.1 1912.8 L958 1913.1 L960.1 1912.9 L962 1912.5 L963.4 1911.8Z M1084.3 1849.4 L1085 1848.6 L1084.9 1847.8 L1084 1847.1 L1082.5 1846.6 L1078.6 1845.8 L1076.7 1845.6 L1074.7 1845.7 L1072.8 1846.1 L1071.5 1846.8 L975.8 1914.4 L975.1 1915.2 L975.2 1916.1 L976.1 1916.8 L977.6 1917.3 L981.5 1918.1 L983.4 1918.3 L985.5 1918.2 L987.4 1917.8 L988.8 1917.1Z M1109.4 1854.6 L1110.1 1853.8 L1110 1853 L1109.2 1852.3 L1107.7 1851.8 L1103.8 1851 L1101.9 1850.8 L1099.8 1850.9 L1098 1851.3 L1096.6 1852 L1001.2 1919.7 L1000.5 1920.5 L1000.6 1921.3 L1001.5 1922.1 L1003 1922.6 L1006.9 1923.4 L1008.9 1923.6 L1010.9 1923.5 L1012.8 1923 L1014.2 1922.4Z M1134.6 1859.8 L1135.3 1859 L1135.2 1858.2 L1134.3 1857.5 L1132.8 1857 L1129 1856.2 L1127 1856 L1125 1856.1 L1123.2 1856.5 L1121.8 1857.2 L1026.6 1925 L1025.9 1925.8 L1026 1926.6 L1026.9 1927.3 L1028.4 1927.9 L1032.3 1928.7 L1034.3 1928.9 L1036.3 1928.8 L1038.2 1928.3 L1039.6 1927.6Z M1159.8 1865 L1160.5 1864.2 L1160.4 1863.4 L1159.5 1862.7 L1158 1862.2 L1154.1 1861.4 L1152.2 1861.2 L1150.2 1861.3 L1148.3 1861.7 L1147 1862.4 L1052.1 1930.2 L1051.4 1931.1 L1051.5 1931.9 L1052.3 1932.6 L1053.9 1933.1 L1057.8 1933.9 L1059.7 1934.2 L1061.8 1934 L1063.7 1933.6 L1065.1 1932.9Z M1185 1870.2 L1185.7 1869.4 L1185.6 1868.6 L1184.7 1867.9 L1183.2 1867.4 L1179.3 1866.6 L1177.4 1866.4 L1175.4 1866.5 L1173.6 1866.9 L1172.2 1867.6 L1077.5 1935.5 L1076.8 1936.3 L1076.9 1937.2 L1077.8 1937.9 L1079.3 1938.4 L1083.2 1939.2 L1085.2 1939.4 L1087.3 1939.3 L1089.1 1938.9 L1090.5 1938.2Z M1210.3 1875.4 L1211 1874.6 L1210.8 1873.8 L1210 1873.1 L1208.4 1872.6 L1204.6 1871.8 L1202.6 1871.6 L1200.6 1871.7 L1198.8 1872.1 L1197.4 1872.8 L1103 1940.8 L1102.3 1941.6 L1102.4 1942.5 L1103.3 1943.2 L1104.8 1943.7 L1108.7 1944.5 L1110.7 1944.7 L1112.7 1944.6 L1114.6 1944.2 L1116 1943.5Z M1235.5 1880.6 L1236.2 1879.8 L1236.1 1879 L1235.2 1878.3 L1233.7 1877.8 L1229.8 1877 L1227.9 1876.8 L1225.9 1876.9 L1224 1877.3 L1222.7 1878 L1128.5 1946.1 L1127.8 1946.9 L1127.9 1947.8 L1128.8 1948.5 L1130.3 1949 L1134.2 1949.8 L1136.2 1950 L1138.2 1949.9 L1140.1 1949.5 L1141.5 1948.8Z M1260.8 1885.8 L1261.5 1885 L1261.4 1884.2 L1260.5 1883.5 L1258.9 1883 L1255.1 1882.2 L1253.1 1882 L1251.1 1882.1 L1249.3 1882.5 L1247.9 1883.2 L1154 1951.4 L1153.3 1952.2 L1153.4 1953 L1154.3 1953.8 L1155.8 1954.3 L1159.7 1955.1 L1161.7 1955.3 L1163.8 1955.2 L1165.6 1954.8 L1167 1954.1Z M1286.1 1891.1 L1286.8 1890.2 L1286.6 1889.4 L1285.7 1888.7 L1284.2 1888.2 L1280.3 1887.4 L1278.4 1887.2 L1276.4 1887.3 L1274.5 1887.7 L1273.2 1888.4 L1179.5 1956.7 L1178.8 1957.5 L1178.9 1958.3 L1179.8 1959.1 L1181.4 1959.6 L1185.3 1960.4 L1187.2 1960.6 L1189.3 1960.5 L1191.1 1960.1 L1192.5 1959.4Z M1311.4 1896.3 L1312.1 1895.5 L1311.9 1894.6 L1311 1893.9 L1309.5 1893.4 L1305.6 1892.6 L1303.7 1892.4 L1301.7 1892.5 L1299.8 1892.9 L1298.5 1893.6 L1205.1 1962 L1204.4 1962.8 L1204.5 1963.6 L1205.4 1964.4 L1206.9 1964.9 L1210.8 1965.7 L1212.8 1965.9 L1214.8 1965.8 L1216.7 1965.4 L1218.1 1964.7Z" fill="#000" stroke="#000" stroke-width="0.6" stroke-linejoin="round"/>
<path d="M856.1 1888.6 L952.2 1821.8 M859.6 1889.4 L955.7 1822.6 M881.4 1893.9 L977.3 1827 M884.9 1894.6 L980.7 1827.7 M906.7 1899.1 L1002.4 1832.2 M910.2 1899.9 L1005.8 1832.9 M932.1 1904.4 L1027.5 1837.4 M935.5 1905.1 L1030.9 1838.1 M957.4 1909.7 L1052.6 1842.6 M960.9 1910.4 L1056 1843.3 M982.8 1914.9 L1077.7 1847.7 M986.3 1915.7 L1081.2 1848.5 M1008.2 1920.2 L1102.9 1852.9 M1011.7 1920.9 L1106.4 1853.6 M1033.6 1925.5 L1128.1 1858.1 M1037.1 1926.2 L1131.5 1858.8 M1059 1930.8 L1153.3 1863.3 M1062.5 1931.5 L1156.7 1864 M1084.5 1936 L1178.5 1868.5 M1088 1936.8 L1181.9 1869.2 M1110 1941.3 L1203.7 1873.7 M1113.5 1942 L1207.2 1874.4 M1135.5 1946.6 L1228.9 1878.9 M1139 1947.3 L1232.4 1879.6 M1161 1951.9 L1254.2 1884.1 M1164.5 1952.6 L1257.7 1884.9 M1186.5 1957.2 L1279.5 1889.4 M1190 1957.9 L1283 1890.1 M1212 1962.5 L1304.8 1894.6 M1215.5 1963.2 L1308.3 1895.3" fill="none" stroke="#fff" stroke-width="0.85" stroke-linecap="round"/>
</g>
<!-- 21_elem6 -->
<path d="M1079 1988 L1001.300 1968.800 C989 1965.800 966.300 1961.500 954.300 1970 L922.500 1992.500 C909 2002 916 2010 934.500 2013.800 L1148.800 2057 C1170.800 2061.400 1191.500 2062 1207.500 2050 L1237.500 2027.500 C1250 2018 1236 2015 1215.300 2010.800 L1198 2007.500 L1137.500 2000" fill="none" stroke="#000" stroke-width="12.6" stroke-linejoin="round"/>
<path d="M1079 1988 L1001.300 1968.800 C989 1965.800 966.300 1961.500 954.300 1970 L922.500 1992.500 C909 2002 916 2010 934.500 2013.800 L1148.800 2057 C1170.800 2061.400 1191.500 2062 1207.500 2050 L1237.500 2027.500 C1250 2018 1236 2015 1215.300 2010.800 L1198 2007.500 L1137.500 2000" fill="none" stroke="#fff" stroke-width="8.6" stroke-linejoin="round"/>
<path class="t" d="M1002 1962.5 L1000.5 1975 M1020.5 1965.8 L1018.8 1978.2 M1070 1977.5 L1066.2 1991.2 M952.5 1965 L956.2 1975 M920 1987.5 L925 1997.5 M935.5 2007.5 L933 2020 M1150 2050 L1147.5 2063.8 M1205 2045 L1210 2055 M1232.5 2023.8 L1242.5 2031.2 M1198.8 2001.2 L1197 2013.8 M1216.2 2004.5 L1214.5 2017 M1148.8 1995.5 L1147 2008"/>
<path class="k" d="M1080 1988.800 L1097.500 1992 L1088 2001.300 L1076 1999.500 Z"/><path d="M1084 1993 L1091 1994 L1087 1997.500 Z" fill="#fff"/><path class="k" d="M1118.800 2005.500 L1127 1998 L1137.500 2000 L1131 2008.800 L1122 2008.500 Z"/><path d="M1124 2004.500 L1129 2002.500 L1127.500 2006 Z" fill="#fff"/>
<!-- 30_base -->
<g class="l">
<!-- outer top rim: left/back edge -->
<path d="M857.500 2631 Q860 2622 872.500 2615 L1002.500 2526.300 L1025 2530"/>
<path d="M857.500 2631 Q857 2640 870 2644.500 L1290 2731 Q1308 2733 1325 2712 L1460 2618.800"/>
<path d="M861 2636 Q862 2645 874 2648.500 L1288 2735.500 Q1310 2738 1328 2715.500"/>
<path d="M1080 2542.500 L1385 2603.800"/>
<!-- left face -->
<path d="M855 2632.500 L847.500 2698 Q847.500 2702 853 2703.500 L861.300 2706.300 L977.500 2730"/>
<path d="M868.800 2646 L861.300 2706.300"/>
<!-- notch -->
<path d="M977.500 2730 L985 2685 L1171.300 2721.300 L1171.300 2768.500 L1287.500 2792.500 Q1310 2795 1322.500 2785 L1360 2760 L1367.500 2732.500 Q1369 2728 1374 2725 L1420 2695 L1430 2691.300 L1437.500 2708.800 L1481.300 2680 L1475 2626 Q1474 2622 1468 2620.500 L1460 2618.800"/>
<path d="M980 2727 Q983 2712 990 2705 L1010 2690"/>
<path d="M1290 2734 L1290 2792.500"/>
<path d="M1322.500 2720 L1322.500 2785"/>
<path d="M1420 2695 L1425 2706"/>
<!-- inner right side double -->
<path d="M1456 2622 L1330 2710"/>
<!-- back inner wall lines -->
<path d="M1052.500 2582.500 L1357.500 2650"/>
<path d="M1050 2594 L1355 2660"/>
<!-- left inner floor lines -->
<path d="M965 2630 L1020 2590"/>
<path d="M975 2633 L1015 2606"/>
<!-- raised frame on floor -->
<path d="M1033 2642 L1050 2632 Q1056 2629 1066 2630 L1225 2660 Q1246 2664 1246 2672 L1246 2690"/>
<path d="M1040 2646 L1058 2635"/>
<path d="M1065 2650 Q1070 2645 1080 2646 L1145 2659 Q1154 2662 1153 2668 L1151 2672"/>
<path d="M1072 2654 L1145 2668"/>
<path d="M1215 2680 L1230 2670 L1244 2672"/>
<path d="M1222 2683 L1234 2674"/>
<!-- hole in back wall -->
<circle cx="1269.500" cy="2602.500" r="10.500"/>
<path d="M1268 2593 Q1264 2603 1276 2610"/>
<!-- right boss -->
<path class="w" d="M1230 2615 V2636 Q1240 2642 1250 2636 V2615 Q1240 2609 1230 2615Z"/>
<ellipse cx="1240" cy="2614.500" rx="10" ry="4.500"/>
<!-- left post -->
<ellipse cx="1030" cy="2601" rx="17" ry="7"/>
<path class="w" d="M1020 2572 V2600 Q1031 2606 1043 2600 V2572 Q1031 2566 1020 2572Z"/>
<ellipse cx="1031.500" cy="2571.500" rx="11.500" ry="5"/>
<!-- left hinge bracket -->
<path d="M1010 2546 L1012 2558 L1045 2564 L1060 2552 L1062 2538"/>
<path class="w" d="M1010 2546 L1028 2532 L1062 2538 L1045 2551 Z"/>
<path d="M1045 2551 L1045 2564"/>
<path d="M1012 2558 L1020 2585 M1018 2560 L1024 2575 M1045 2564 L1046 2580 M1050 2562 L1052 2583 L1058 2560"/>
<!-- left hinge cylinder -->
<path class="w" d="M1035 2484 L1080 2492.500 Q1089 2497 1089.500 2516 Q1089 2536 1080 2541 L1067 2539 L1064 2525 L1032 2517 L1032 2530 Q1022 2520 1023 2505 Q1025 2489 1035 2484 Z"/>
<ellipse cx="1078.500" cy="2516.500" rx="11" ry="25" transform="rotate(6 1078.500 2516.500)"/>
<path d="M1032 2517 L1064 2525"/>
<path d="M1075 2512 l4 -5 l4 3 l0.500 9 l-4 5 l-4 -3Z"/>
<!-- right hinge bracket -->
<path d="M1372 2612 L1373 2626 L1405 2633 L1430 2615"/>
<path class="w" d="M1372 2612 L1392 2598 L1428 2605 L1405 2620 Z"/>
<path d="M1405 2620 L1405 2633"/>
<path d="M1360 2660 L1362 2617 L1372 2612"/>
<path d="M1366 2655 L1368 2625"/>
<!-- right hinge cylinder -->
<path class="w" d="M1410 2555 L1452 2563.500 Q1461 2568 1461.500 2587 Q1461 2607 1452 2612 L1432 2608 L1428 2592 L1396 2585 L1396 2598 Q1395 2580 1398 2570 Q1402 2558 1410 2555 Z"/>
<ellipse cx="1450" cy="2586.500" rx="11" ry="25" transform="rotate(6 1450 2586.500)"/>
<ellipse cx="1450" cy="2586.500" rx="7.500" ry="19" transform="rotate(6 1450 2586.500)"/>
<circle cx="1449" cy="2582" r="4"/>
<circle cx="1446.500" cy="2598" r="4.500"/>
<path d="M1396 2585 L1428 2592"/>
<!-- arrow mark -->
<path d="M1332 2694 L1346 2684 L1360 2686 L1345 2696 Z M1340 2695 L1352 2685"/>
</g>
<g class="h" style="stroke-width:3.6">
<!-- inner rim thick -->
<path d="M1022.500 2535 L900 2617.500 L1310 2702 L1432.500 2613.800"/>
<path d="M1066 2652 L1150 2669.500" style="stroke-width:3"/>
</g>
<path class="l" d="M1025 2540 L905 2621"/>
<!-- screw bosses -->
<g fill="#000">
<ellipse cx="952" cy="2622" rx="10" ry="4.500"/>
<ellipse cx="1296" cy="2692.500" rx="11" ry="5"/>
<ellipse cx="1377" cy="2637" rx="9.500" ry="4.500"/>
<ellipse cx="1031.500" cy="2571" rx="8" ry="3.200"/>
<ellipse cx="1254" cy="2653.800" rx="5" ry="3"/>
<ellipse cx="1240" cy="2614.500" rx="6" ry="2.500"/>
</g>
<g fill="none" stroke="#fff" stroke-width="1">
<ellipse cx="952" cy="2622" rx="6" ry="2.200"/>
<ellipse cx="1296" cy="2692.500" rx="6.500" ry="2.500"/>
<ellipse cx="1377" cy="2637" rx="5.500" ry="2.200"/>
</g>
<ellipse class="l" cx="952" cy="2620.500" rx="12.500" ry="6"/>
<path d="M1180.500 2640 L1184 2636.500 L1186 2640.500 L1190 2638 L1198 2639 L1206 2641.500 L1219 2643.500 L1221 2646 L1218 2649 L1212 2649 L1208 2647 L1198 2645 L1188 2643.500 L1181 2642 Z" fill="#000"/>
<!-- 31_tray -->
<g class="l">
<!-- outer rim -->
<path d="M966.300 2816.300 L1031 2772 Q1038 2767 1048 2767.500"/>
<path d="M966.300 2816.300 L1153.800 2852.500 L1222 2808.500"/>
<path d="M969 2813 L1153 2849 L1219 2806"/>
<!-- inner rim -->
<path d="M991 2806.500 L1040 2773.500 Q1044 2771 1050 2772 L1207 2803.500 Q1214 2805.500 1212 2809 L1168 2837.500 Q1162 2841 1155 2840 L994 2810 Q988.500 2808.500 991 2806.500 Z"/>
<path d="M997 2808 L1042 2778"/>
<path d="M1053 2775 L1206 2806"/>
<!-- inner corner -->
<path d="M1042.500 2772 V2810"/>
<path d="M1051 2775 V2809"/>
<!-- floor -->
<path d="M1036 2813.500 L1044 2808.500 L1170 2833"/>
<path d="M1038 2816 L1165 2840"/>
<!-- left leg -->
<path d="M966.300 2816.300 L961.300 2860 L982.500 2863.800 L988.800 2838 Q990 2835.500 993 2838.500"/>
<!-- front bottom -->
<path d="M992 2838 L1122 2863.500 Q1128 2865 1128.500 2870 L1131.300 2895 L1151.300 2898.800 L1160 2878.800"/>
<path d="M992 2843 Q993 2846.500 998 2847.500 L1127 2873"/>
<path d="M994 2841 L1126 2867"/>
<path d="M1153.800 2852.500 L1153.800 2897"/>
<!-- right side -->
<path d="M1160 2878.800 L1166 2850"/>
</g>
<g class="h">
<path d="M1048 2767.500 L1217 2801.500 Q1224 2803.500 1222 2809"/>
<path d="M1213.800 2815 L1212.500 2842.500 L1163.800 2876.300 L1166 2850 L1213.800 2815"/>
<path d="M1042.500 2772.500 V2808 M1046.500 2774 V2808.500"/>
</g>
<path d="M1046 2809 L1165 2832.500" fill="none" stroke="#000" stroke-width="2.600" stroke-dasharray="3 1.500"/>
<!-- 32_small -->
<!-- feet (13) -->
<g>
<path d="M843.300 2781 L840.800 2796 Q840 2804.500 852.500 2805.300 Q865 2804.500 864.800 2796 L862 2781 Z" fill="#fff" stroke="#000" stroke-width="2.400" stroke-linejoin="round"/>
<path d="M840.600 2795.500 Q841 2803.500 852.500 2804 Q864.500 2803.500 864.800 2795.500" fill="none" stroke="#000" stroke-width="4.200" stroke-linecap="round"/>
<ellipse cx="852.600" cy="2781" rx="9.300" ry="4" fill="#000" stroke="#000" stroke-width="1.600"/>
<ellipse cx="847.500" cy="2780" rx="1.600" ry="1" fill="#fff"/><ellipse cx="857.500" cy="2780" rx="1.600" ry="1" fill="#fff"/>
<path d="M844.500 2783.800 Q852.500 2786.500 860.800 2783.800" fill="none" stroke="#fff" stroke-width="1"/>
</g>
<g transform="translate(472.5 94.5)">
<path d="M843.300 2781 L840.800 2796 Q840 2804.500 852.500 2805.300 Q865 2804.500 864.800 2796 L862 2781 Z" fill="#fff" stroke="#000" stroke-width="2.400" stroke-linejoin="round"/>
<path d="M840.600 2795.500 Q841 2803.500 852.500 2804 Q864.500 2803.500 864.800 2795.500" fill="none" stroke="#000" stroke-width="4.200" stroke-linecap="round"/>
<ellipse cx="852.600" cy="2781" rx="9.300" ry="4" fill="#000" stroke="#000" stroke-width="1.600"/>
<ellipse cx="847.500" cy="2780" rx="1.600" ry="1" fill="#fff"/><ellipse cx="857.500" cy="2780" rx="1.600" ry="1" fill="#fff"/>
<path d="M844.500 2783.800 Q852.500 2786.500 860.800 2783.800" fill="none" stroke="#fff" stroke-width="1"/>
</g>
<!-- part 10 -->
<g class="l">
<path class="w" d="M1522.500 2781 L1523.500 2790 L1600.800 2807.500 L1635 2783.500 L1635 2776 L1627 2768 L1555 2756.700 L1545 2762 Z"/>
<path d="M1522.500 2781 L1600.800 2799.500 L1635 2776"/>
<path d="M1600.800 2799.500 V2807.500"/>
<path d="M1530 2779 L1553 2763 L1626 2774 L1601 2794.500 Z"/>
<path d="M1530 2783 V2791"/>
<!-- left boss -->
<path class="w" d="M1537 2768 V2777 Q1549 2784 1562 2777 V2768 Q1549 2761 1537 2768Z"/>
<ellipse cx="1549.500" cy="2767.500" rx="12.500" ry="5.500"/>
<path class="w" d="M1548 2765 L1556 2758.500 L1571 2759.500 L1573 2768 L1563 2770 Z"/>
<path d="M1572 2758 V2769 Q1575 2770.500 1578 2769 V2756"/>
<!-- right boss -->
<path class="w" d="M1609 2770 V2778 Q1617 2782 1626 2778 V2770 Q1617 2766 1609 2770Z"/>
<path d="M1611 2768 L1615 2764 L1618 2767"/>
<!-- front boss -->
<path class="w" d="M1586 2786 V2793 Q1596 2798 1606 2793 V2786 Q1596 2781 1586 2786Z"/>
<ellipse cx="1596" cy="2786" rx="10" ry="4.500"/>
<ellipse cx="1596" cy="2786.500" rx="5.500" ry="2.300"/>
</g>
<path d="M1563 2782.500 L1576 2773 L1582 2774.500 L1569 2784 Z" fill="#000"/>
<path d="M1577 2782 L1583 2781 L1584 2787 Z" fill="#000"/>
<ellipse cx="1545" cy="2766" rx="3" ry="2" fill="#000"/>
<path d="M1552 2763 l6 -3 l5 1 l-6 4Z" fill="#000"/>
<!-- part 11 -->
<path d="M1046 2231 L1065 2215 L1083 2217.500 L1084 2228 L1082 2231 L1061 2241.500 L1046.500 2238.500 L1046.500 2234.500 Z" fill="#000" stroke="#000" stroke-width="1.500" stroke-linejoin="round"/>
<path d="M1060 2224 L1066 2220.500 L1071 2222 L1064 2226.500 Z M1068 2217.500 L1075 2218.500 L1073 2220.500 L1067 2219.500Z M1079 2221 L1081.500 2220.500 L1080.500 2227.500 L1076 2226 Z M1063 2236 L1074 2229.500 L1072 2229 L1062 2234 Z M1051 2235 L1060 2236.500 L1058 2237.500 L1050.500 2236.500Z" fill="#fff"/>
<!-- 90_labels -->
<g class="n">
<text x="862" y="301.75">1</text>
<text x="2162.5" y="238">14</text>
<text x="1026.75" y="525">8</text>
<text x="2197.5" y="533">12</text>
<text x="1360.5" y="651.25">9</text>
<text x="924.25" y="713.75">7</text>
<text x="659" y="992.5">3</text>
<text x="1558" y="1382">5</text>
<text x="1587.2" y="1942.8">6</text>
<text x="1182.6" y="2234">11</text>
<text x="638.8" y="2645">2</text>
<text x="713.6" y="2801.9">13</text>
<text x="1688.7" y="2794.2">10</text>
<text x="698.7" y="2869.2">4</text>
<text x="1395.75" y="2889.4">13</text>
</g>
<text class="c" x="2343.3" y="3133.2">©</text>
<rect x="892" y="284.75" width="93" height="3" fill="#000"/>
<rect x="2080" y="221.5" width="83.75" height="3.5" fill="#000"/>
<rect x="1051" y="500.25" width="84" height="3.5" fill="#000"/>
<rect x="2128.75" y="516.5" width="68.75" height="3" fill="#000"/>
<rect x="1234" y="638.55" width="124" height="3.5" fill="#000"/>
<rect x="948.25" y="697.5" width="79.75" height="3.5" fill="#000"/>
<rect x="687.5" y="972.5" width="99.5" height="3.5" fill="#000"/>
<rect x="1401" y="1365.8" width="149.8" height="4.4" fill="#000"/>
<rect x="1401" y="1924.45" width="179.8" height="4.5" fill="#000"/>
<rect x="1083" y="2217.65" width="95" height="3.5" fill="#000"/>
<rect x="672.5" y="2628" width="185" height="4" fill="#000"/>
<rect x="771.25" y="2779.8" width="71.75" height="4.2" fill="#000"/>
<rect x="1635.8" y="2779.9" width="59.2" height="4.2" fill="#000"/>
<rect x="731.7" y="2858.65" width="229.8" height="3.7" fill="#000"/>
<rect x="1335" y="2874.38" width="63" height="3.75" fill="#000"/>
<path fill="#000" fill-rule="evenodd" d="M759 1147.9 H1403.1 V1555 H759 Z M762.9 1152.7 V1550 H1398.2 V1152.7 Z"/>
<path fill="#000" fill-rule="evenodd" d="M759 1742.9 H1403.1 V2125.8 H759 Z M762.9 1746.8 V2121.9 H1398.2 V1746.8 Z"/>
</svg>
</body>
</html>
